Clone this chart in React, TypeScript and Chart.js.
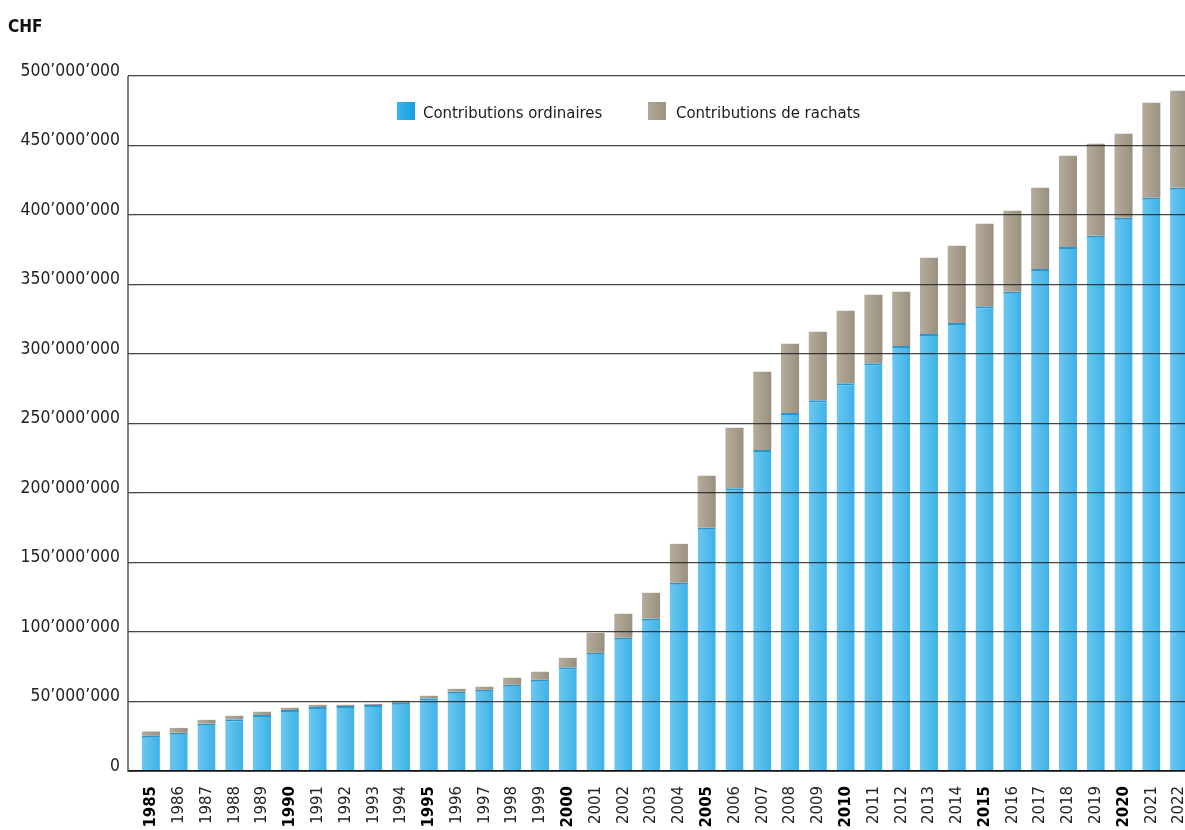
import React, { useEffect, useRef } from "react";
import { Chart, registerables } from "chart.js";

Chart.register(...registerables);

// ---- Data (CHF, in millions) ----
const years = [
  "1985", "1986", "1987", "1988", "1989", "1990", "1991", "1992", "1993", "1994",
  "1995", "1996", "1997", "1998", "1999", "2000", "2001", "2002", "2003", "2004",
  "2005", "2006", "2007", "2008", "2009", "2010", "2011", "2012", "2013", "2014",
  "2015", "2016", "2017", "2018", "2019", "2020", "2021", "2022",
];

const ordinaryM = [
  25.3, 27.5, 34.0, 37.3, 40.2, 43.8, 46.0, 46.7, 47.4, 49.1,
  52.4, 57.0, 58.4, 62.0, 65.6, 74.7, 85.0, 95.8, 109.5, 135.4,
  175.0, 203.5, 230.9, 257.5, 266.8, 279.0, 293.4, 305.7, 314.3, 322.3,
  334.4, 344.7, 361.1, 376.9, 385.0, 398.0, 412.4, 419.6,
];

const buybackM = [
  3.1, 3.5, 2.8, 2.4, 2.4, 1.7, 1.6, 0.9, 0.9, 1.4,
  1.7, 2.1, 2.2, 5.1, 5.8, 6.7, 14.4, 17.3, 18.7, 28.0,
  37.4, 43.4, 56.3, 49.8, 49.2, 52.1, 49.2, 39.0, 54.9, 55.5,
  59.3, 58.3, 58.5, 65.7, 66.2, 60.4, 68.3, 69.8,
];

const seriesLabels = ["Contributions ordinaires", "Contributions de rachats"];
const unitLabel = "CHF";
const yMax = 500000000;
const yStep = 50000000;

// ---- Styling ----
const FONT = '"DejaVu Sans Condensed", "Liberation Sans Narrow", "Open Sans", sans-serif';
const BAR_PCT = 0.65;

function fmt(v: number): string {
  if (v === 0) return "0";
  return Math.round(v).toString().replace(/\B(?=(\d{3})+(?!\d))/g, "\u2019");
}

function barGradient(c: any, from: string, to: string) {
  const chart = c.chart;
  const xs = chart.scales && chart.scales.x;
  if (!xs || !chart.chartArea || c.dataIndex == null) return to;
  const cx = xs.getPixelForValue(c.dataIndex);
  const half = ((xs.width / years.length) * BAR_PCT) / 2;
  const g = chart.ctx.createLinearGradient(cx - half, 0, cx + half, 0);
  g.addColorStop(0, from);
  g.addColorStop(1, to);
  return g;
}

const axisLinePlugin = {
  id: "axisLine",
  afterDraw(chart: any) {
    const { ctx, chartArea } = chart;
    const x = chartArea.left - 9;
    ctx.save();
    ctx.strokeStyle = "#555555";
    ctx.lineWidth = 1.5;
    ctx.beginPath();
    ctx.moveTo(x, chartArea.top);
    ctx.lineTo(x, chartArea.bottom + 1);
    ctx.stroke();
    ctx.restore();
  },
};

export default function App() {
  const canvasRef = useRef<HTMLCanvasElement | null>(null);

  useEffect(() => {
    if (!canvasRef.current) return;
    const chart = new Chart(canvasRef.current, {
      type: "bar",
      data: {
        labels: years,
        datasets: [
          {
            label: seriesLabels[0],
            data: ordinaryM.map((v) => v * 1e6),
            backgroundColor: (c: any) => barGradient(c, "#6cc7f0", "#3db2e7"),
            borderColor: "#2b97cf",
            borderWidth: { top: 2, left: 0, right: 0, bottom: 0 },
            borderSkipped: false,
            categoryPercentage: 1,
            barPercentage: BAR_PCT,
          },
          {
            label: seriesLabels[1],
            data: buybackM.map((v) => v * 1e6),
            backgroundColor: (c: any) => barGradient(c, "#b5ac9c", "#9a9080"),
            borderWidth: 0,
            categoryPercentage: 1,
            barPercentage: BAR_PCT,
          },
        ],
      },
      options: {
        responsive: false,
        animation: false,
        devicePixelRatio: 1,
        layout: { padding: { left: 0, top: 76, right: 17, bottom: 0 } },
        plugins: {
          legend: { display: false },
          tooltip: { enabled: false },
          title: { display: false },
        },
        scales: {
          x: {
            stacked: true,
            offset: true,
            afterFit: (s: any) => {
              s.height = 59;
              s.paddingLeft = 0;
              s.paddingRight = 0;
            },
            border: { display: false },
            grid: { display: false, drawTicks: false },
            ticks: {
              autoSkip: false,
              maxRotation: 90,
              minRotation: 90,
              padding: 15,
              color: (c: any) => (Number(years[c.index]) % 5 === 0 ? "#000000" : "#222222"),
              font: (c: any) => ({
                family: FONT,
                size: 16.6,
                weight: Number(years[c.index]) % 5 === 0 ? "bold" : "normal",
              }),
            },
          },
          y: {
            stacked: true,
            min: 0,
            max: yMax,
            afterFit: (s: any) => {
              s.width = 137;
              s.paddingTop = 0;
              s.paddingBottom = 0;
            },
            border: { display: false },
            grid: {
              z: 1,
              drawTicks: true,
              tickLength: 9,
              color: (c: any) => (c.tick && c.tick.value === 0 ? "#111111" : "rgba(25,25,25,0.8)"),
              lineWidth: (c: any) => (c.tick && c.tick.value === 0 ? 1.8 : 1.3),
            },
            ticks: {
              stepSize: yStep,
              padding: 8,
              labelOffset: -5,
              color: "#222222",
              font: { family: FONT, size: 17.4 },
              callback: (v: any) => fmt(Number(v)),
            },
          },
        },
      },
      plugins: [axisLinePlugin],
    } as any);
    return () => chart.destroy();
  }, []);

  const legendText: React.CSSProperties = {
    position: "absolute",
    top: 104,
    font: `16.6px ${FONT}`,
    lineHeight: "18px",
    color: "#1a1a1a",
    whiteSpace: "nowrap",
  };

  return (
    <div
      style={{
        position: "fixed",
        left: 0,
        top: 0,
        width: 1185,
        height: 830,
        overflow: "hidden",
        background: "#ffffff",
      }}
    >
      <canvas
        ref={canvasRef}
        width={1210}
        height={830}
        style={{ position: "absolute", left: 0, top: 0, width: 1210, height: 830 }}
      />
      <div
        style={{
          position: "absolute",
          left: 8,
          top: 17,
          font: `bold 17px ${FONT}`,
          lineHeight: "19px",
          color: "#111111",
        }}
      >
        {unitLabel}
      </div>
      <div
        style={{
          position: "absolute",
          left: 397,
          top: 102,
          width: 18,
          height: 18,
          background: "linear-gradient(90deg, #3ab3ea, #10a0e0)",
        }}
      />
      <div style={{ ...legendText, left: 423 }}>{seriesLabels[0]}</div>
      <div
        style={{
          position: "absolute",
          left: 648,
          top: 102,
          width: 18,
          height: 18,
          background: "linear-gradient(90deg, #b0a797, #9c9282)",
        }}
      />
      <div style={{ ...legendText, left: 676 }}>{seriesLabels[1]}</div>
    </div>
  );
}
